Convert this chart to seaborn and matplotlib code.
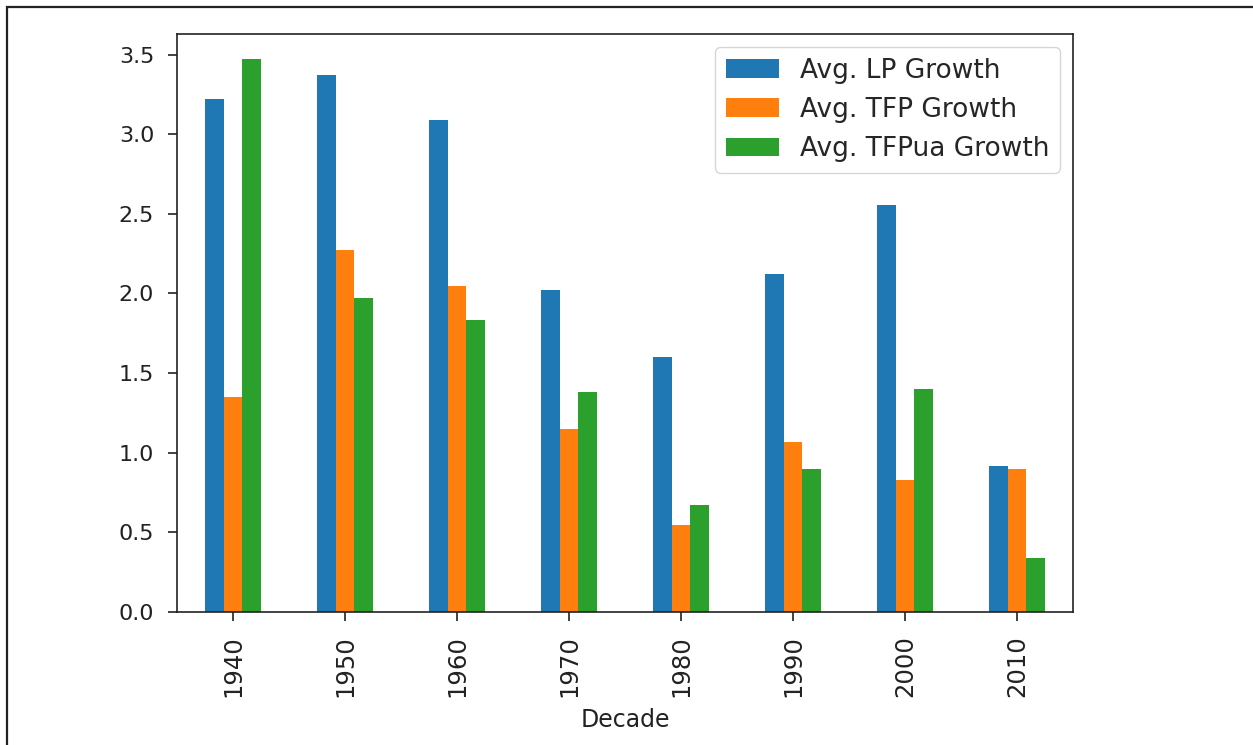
import matplotlib
matplotlib.use("Agg")
import matplotlib.pyplot as plt
from matplotlib.patches import Rectangle
import seaborn as sns
import pandas as pd

# values
decades = ["1940", "1950", "1960", "1970", "1980", "1990", "2000", "2010"]
lp_growth = [3.22, 3.37, 3.09, 2.02, 1.60, 2.12, 2.555, 0.915]
tfp_growth = [1.35, 2.27, 2.05, 1.15, 0.545, 1.065, 0.83, 0.895]
tfpua_growth = [3.47, 1.97, 1.835, 1.38, 0.675, 0.895, 1.40, 0.34]

series_names = ["Avg. LP Growth", "Avg. TFP Growth", "Avg. TFPua Growth"]
colors = ["#1f77b4", "#ff7f0e", "#2ca02c"]

rows = []
for name, vals in zip(series_names, [lp_growth, tfp_growth, tfpua_growth]):
    for d, v in zip(decades, vals):
        rows.append({"Decade": d, "Series": name, "Value": v})
df = pd.DataFrame(rows)

sns.set_style("ticks")
plt.rcParams["font.family"] = ["DejaVu Sans"]
plt.rcParams["axes.edgecolor"] = "#222222"
plt.rcParams["axes.linewidth"] = 1.2
plt.rcParams["xtick.color"] = "#222222"
plt.rcParams["ytick.color"] = "#222222"
plt.rcParams["xtick.major.size"] = 6.5
plt.rcParams["ytick.major.size"] = 6.5
plt.rcParams["xtick.major.width"] = 1.2
plt.rcParams["ytick.major.width"] = 1.2

fig = plt.figure(figsize=(12.53, 7.45), dpi=100)
ax = fig.add_axes([0.1413, 0.1785, 0.715, 0.776])

sns.barplot(data=df, x="Decade", y="Value", hue="Series", order=decades,
            hue_order=series_names, palette=colors, width=0.5,
            saturation=1, errorbar=None, linewidth=0, ax=ax)

ax.set_xlim(-0.5, 7.5)
ax.set_ylim(0, 3.63)
ax.set_yticks([0.0, 0.5, 1.0, 1.5, 2.0, 2.5, 3.0, 3.5])
ax.set_yticklabels(["0.0", "0.5", "1.0", "1.5", "2.0", "2.5", "3.0", "3.5"])
ax.tick_params(axis="y", labelsize=16, labelcolor="#222222", pad=10)
ax.tick_params(axis="x", labelsize=17.5, labelcolor="#222222", rotation=90, pad=10)
ax.set_xlabel("Decade", fontsize=17, color="#222222", labelpad=8)
ax.set_ylabel("")
for s in ax.spines.values():
    s.set_visible(True)

leg = ax.legend(loc="upper right", fontsize=19, title=None, frameon=True,
                fancybox=True, framealpha=0.8, edgecolor="#cccccc",
                borderaxespad=0.5)

# outer frame of the screenshot
fig.patches.append(Rectangle((7 / 1253, -0.05), 1.2, 1.05 - 7 / 745,
                             transform=fig.transFigure, fill=False,
                             edgecolor="#222222", linewidth=1.6))

fig.savefig("out.png", dpi=100)
